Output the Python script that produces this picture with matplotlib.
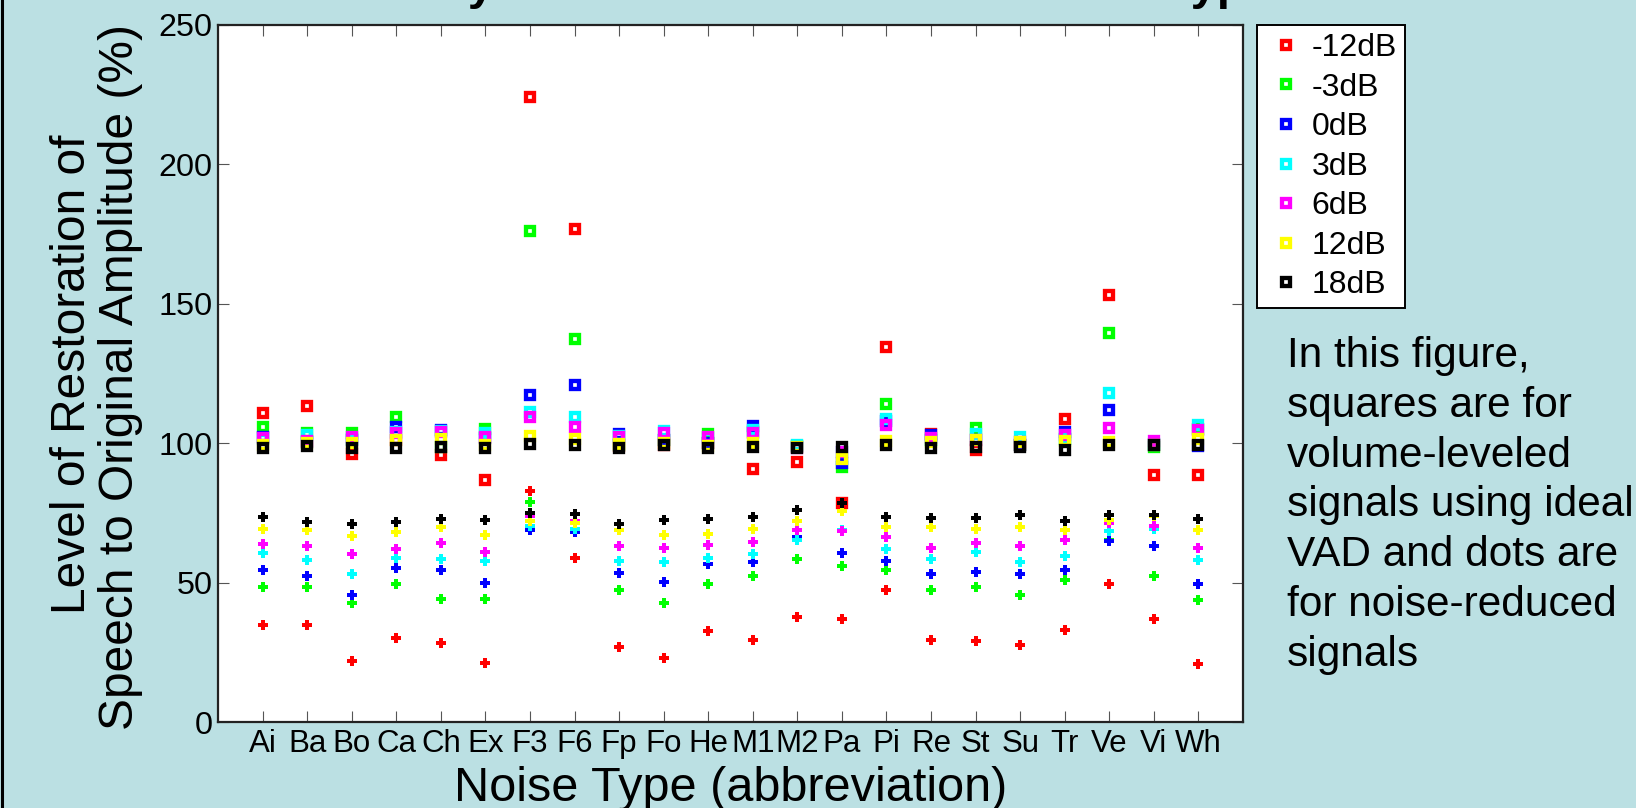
import numpy as np
import matplotlib
matplotlib.use("Agg")
from matplotlib import pyplot as plt
from matplotlib.lines import Line2D

plt.rcParams['font.family'] = ['Liberation Sans', 'DejaVu Sans']

# noise types (abbreviation)
noise_types = ["Ai", "Ba", "Bo", "Ca", "Ch", "Ex", "F3", "F6", "Fp", "Fo", "He",
               "M1", "M2", "Pa", "Pi", "Re", "St", "Su", "Tr", "Ve", "Vi", "Wh"]

snr_labels = ["-12dB", "-3dB", "0dB", "3dB", "6dB", "12dB", "18dB"]
snr_colors = ["#ff0000", "#00ff00", "#0000ff", "#00ffff", "#ff00ff", "#ffff00", "#000000"]

# squares: volume-leveled signals using ideal VAD (%)
vl_m12 = [110.7, 113.3, 96.1, 101.0, 95.8, 86.8, 224.2, 177.0, 99.0, 99.2, 100.0,
          90.6, 93.4, 78.7, 134.6, 103.4, 97.7, 99.5, 108.6, 153.0, 88.7, 88.7]
vl_m3 = [105.8, 103.5, 103.8, 109.5, 98.6, 105.2, 176.2, 137.3, 99.5, 101.0, 103.4,
         104.0, 98.9, 91.6, 113.9, 101.0, 105.6, 99.5, 101.5, 139.5, 98.5, 105.0]
vl_0 = [102.3, 100.5, 101.0, 105.9, 104.7, 102.0, 117.3, 120.9, 103.4, 101.0, 100.0,
        106.2, 98.5, 92.8, 108.0, 102.8, 101.0, 99.5, 104.1, 111.8, 99.5, 99.0]
vl_3 = [101.5, 102.9, 101.5, 104.1, 104.5, 103.5, 111.2, 109.5, 102.5, 104.4, 102.0,
        104.7, 99.4, 97.0, 108.8, 101.0, 103.4, 102.3, 101.5, 118.0, 99.8, 106.5]
vl_6 = [101.8, 100.8, 102.3, 103.5, 104.1, 102.3, 109.5, 105.8, 102.3, 103.5, 102.2,
        103.5, 98.3, 97.0, 106.4, 102.0, 101.0, 100.5, 102.8, 105.6, 100.8, 104.6]
vl_12 = [99.2, 100.2, 100.2, 101.1, 101.6, 99.2, 102.6, 101.4, 99.8, 100.1, 99.0,
         100.0, 98.6, 94.2, 100.8, 100.4, 101.1, 100.4, 100.8, 100.4, 99.4, 101.6]
vl_18 = [98.4, 99.0, 98.4, 98.2, 98.6, 98.2, 99.6, 99.2, 98.4, 99.4, 98.4,
         98.8, 98.4, 98.6, 99.2, 98.4, 98.6, 98.6, 97.6, 99.4, 99.4, 99.4]

# dots: noise-reduced signals (%)
nr_m12 = [34.8, 34.8, 22.0, 30.0, 28.2, 21.3, 82.9, 58.9, 26.8, 23.1, 32.7,
          29.4, 37.6, 37.1, 47.3, 29.4, 29.1, 27.5, 33.0, 49.5, 36.8, 20.7]
nr_m3 = [48.5, 48.3, 42.8, 49.5, 44.2, 44.0, 78.8, 68.9, 47.3, 42.6, 49.5,
         52.4, 58.4, 56.1, 54.5, 47.3, 48.3, 45.4, 50.9, 65.3, 52.5, 43.8]
nr_0 = [54.5, 52.4, 45.6, 55.3, 54.5, 50.0, 68.9, 68.0, 53.6, 50.3, 56.7,
        57.3, 66.5, 60.5, 57.7, 53.1, 53.9, 53.1, 54.5, 64.9, 63.1, 49.5]
nr_3 = [60.7, 58.1, 53.1, 58.7, 58.4, 57.7, 70.3, 69.1, 57.9, 57.3, 58.7,
        60.3, 65.3, 68.9, 61.9, 58.5, 61.1, 57.5, 59.6, 68.5, 69.4, 58.1]
nr_6 = [63.7, 63.1, 60.3, 62.1, 64.2, 60.9, 73.9, 72.0, 63.1, 62.3, 63.5,
        64.5, 68.9, 68.6, 66.2, 62.3, 64.3, 63.1, 65.2, 71.3, 70.4, 62.3]
nr_12 = [69.2, 68.9, 66.7, 68.1, 69.8, 67.1, 72.2, 71.5, 68.9, 67.1, 67.4,
         69.2, 72.2, 75.8, 70.1, 69.8, 69.2, 70.1, 68.9, 72.5, 74.0, 68.9]
nr_18 = [73.6, 71.8, 71.0, 71.7, 72.8, 72.5, 74.9, 74.5, 70.9, 72.6, 72.9,
         73.4, 76.2, 78.4, 73.4, 73.1, 73.3, 74.1, 72.2, 74.2, 74.1, 72.7]

vl_series = [vl_m12, vl_m3, vl_0, vl_3, vl_6, vl_12, vl_18]
nr_series = [nr_m12, nr_m3, nr_0, nr_3, nr_6, nr_12, nr_18]

title = "Restoration by Volume Level for Each Noise Type"
note_lines = ["In this figure,", "squares are for", "volume-leveled",
              "signals using ideal", "VAD and dots are", "for noise-reduced", "signals"]

bg = "#bbe0e3"
W, H = 1636, 808
fig = plt.figure(figsize=(W / 100, H / 100), dpi=100, facecolor=bg)
ax = fig.add_axes([218 / W, 1 - 722 / H, (1243 - 218) / W, (722 - 25) / H])

x = np.arange(1, len(noise_types) + 1)

handles = []
for vals, col, lab in zip(vl_series, snr_colors, snr_labels):
    h, = ax.plot(x, vals, linestyle="none", marker="s", markersize=5.7,
                 markeredgewidth=3.1, markeredgecolor=col, markerfacecolor="none",
                 label=lab)
    handles.append(h)
for vals, col in zip(nr_series, snr_colors):
    ax.plot(x, vals, linestyle="none", marker="P", markersize=6.8,
            markeredgewidth=0, color=col)

ax.set_xlim(0, 23)
ax.set_ylim(0, 250)
ax.set_xticks(x)
ax.set_xticklabels(noise_types)
ax.set_yticks([0, 50, 100, 150, 200, 250])
ax.tick_params(direction="in", length=8, width=0.8, color="#555555",
               top=True, right=True)
ax.tick_params(axis="x", pad=5, labelsize=22.5)
ax.tick_params(axis="y", pad=4, labelsize=23.3)
for s in ax.spines.values():
    s.set_linewidth(1.6)
    s.set_color("#222222")

ax.legend(handles=handles, loc="upper left", bbox_to_anchor=(1257 / W, 1 - 25 / H),
          bbox_transform=fig.transFigure, borderaxespad=0, fontsize=23,
          frameon=True, fancybox=False, edgecolor="black", framealpha=1,
          borderpad=0.25, handlelength=1.3, handletextpad=0.15, labelspacing=0.3)
ax.get_legend().get_frame().set_linewidth(1.4)

# axis labels
fig.text(731 / W, 1 - 801 / H, "Noise Type (abbreviation)", fontsize=35,
         ha="center", va="baseline")
fig.text(85 / W, 1 - 374 / H, "Level of Restoration of", fontsize=34.5,
         rotation=90, rotation_mode="anchor", ha="center", va="baseline")
fig.text(133 / W, 1 - 377 / H, "Speech to Original Amplitude (%)", fontsize=34.5,
         rotation=90, rotation_mode="anchor", ha="center", va="baseline")

# title, cut off at the top edge: only the descenders show
renderer = fig.canvas.get_renderer()
probe = fig.text(0, 0, "", fontsize=34, fontweight="bold")
def width_of(s):
    probe.set_text(s)
    return probe.get_window_extent(renderer).width
w1 = width_of("Restoration b")
w2 = width_of(title[:title.rindex("T") + 1])
probe.remove()
scale = (1195 - 468) / (w2 - w1)
fig.text((468 - w1 * scale) / W, 1 + 1 / H, title, fontsize=34 * scale,
         fontweight="bold", ha="left", va="baseline")

for i, line in enumerate(note_lines):
    fig.text(1287 / W, 1 - (367 + 49.8 * i) / H, line, fontsize=30.5,
             ha="left", va="baseline")

# dark border on the left edge of the picture
fig.add_artist(Line2D([1.5 / W, 1.5 / W], [0, 1], color="black", linewidth=2.2))

fig.savefig("out.png", dpi=100, facecolor=bg)
